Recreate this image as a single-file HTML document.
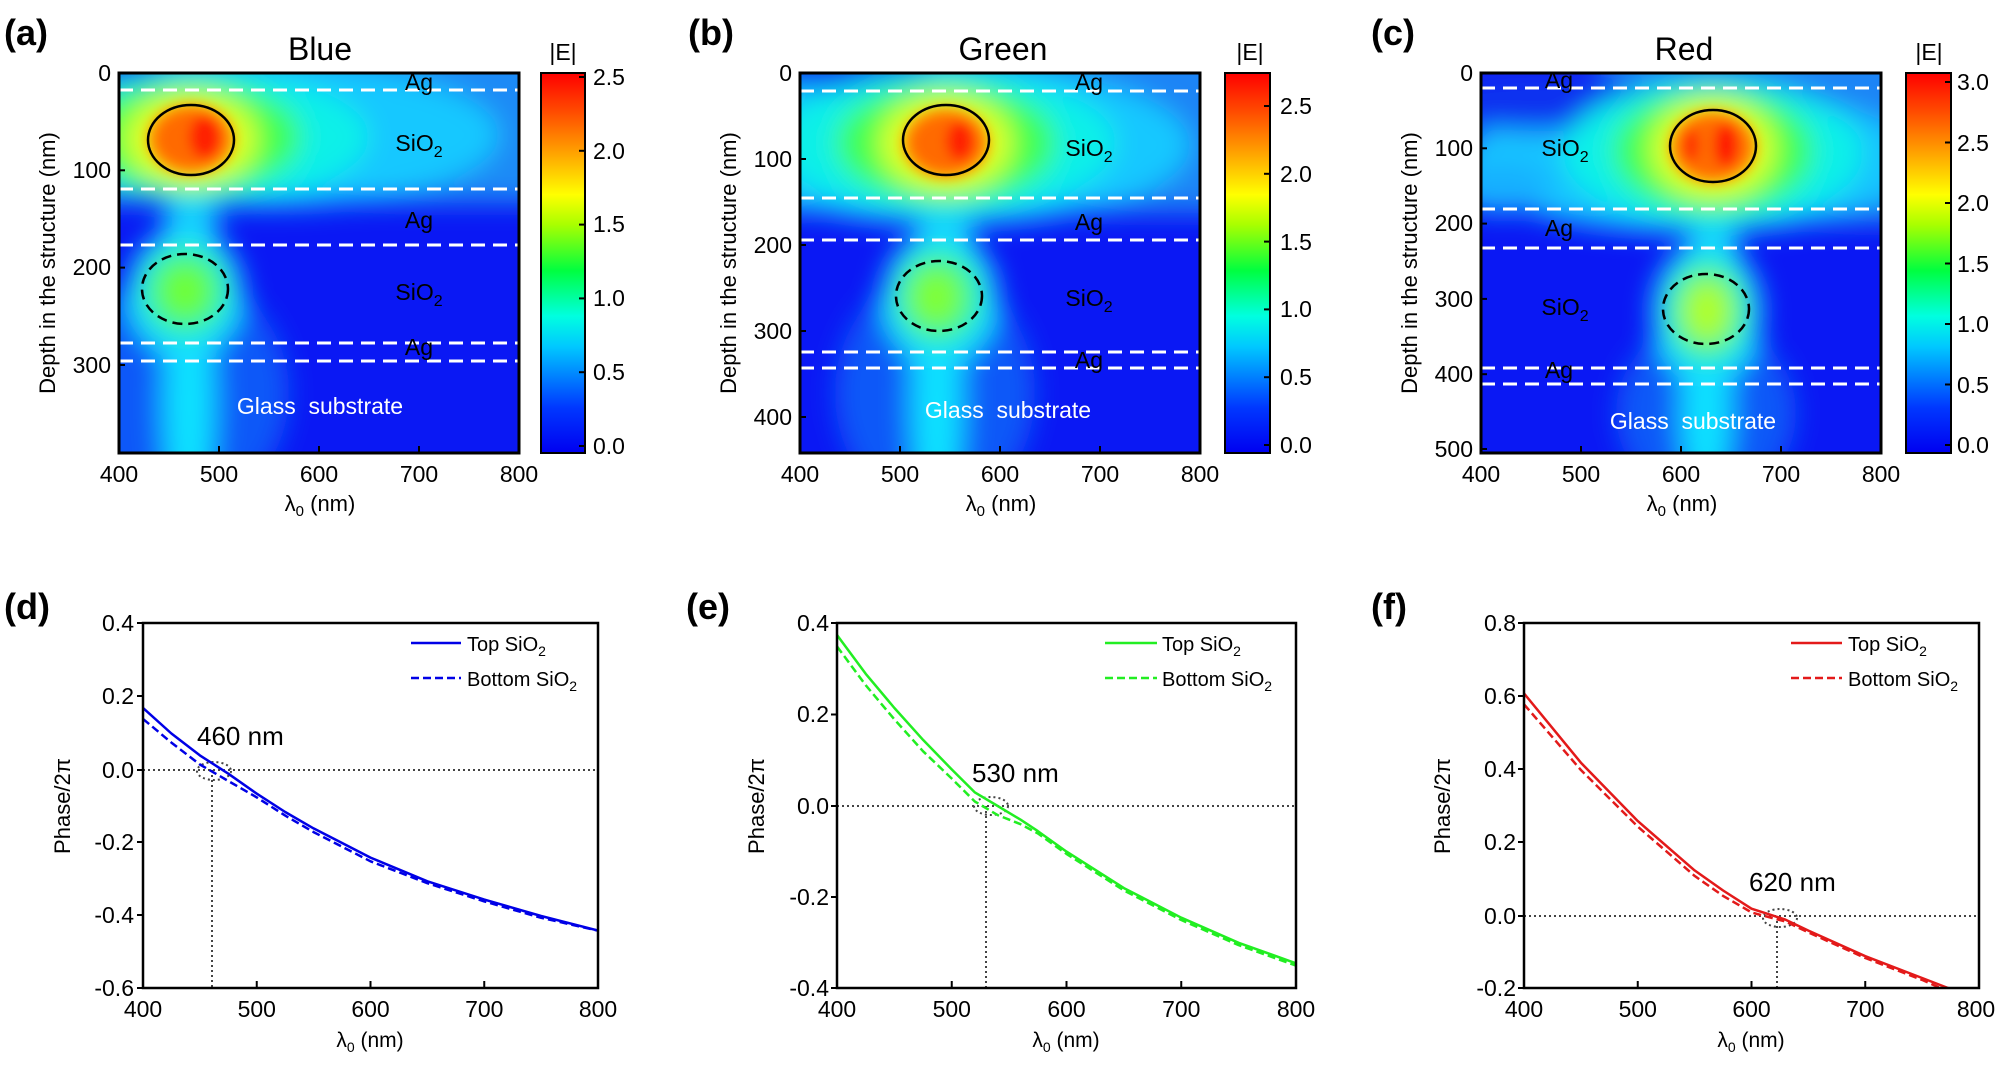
<!DOCTYPE html>
<html><head><meta charset="utf-8"><style>
html,body{margin:0;padding:0;background:#fff;}
svg{display:block;font-family:"Liberation Sans",Arial,sans-serif;}
</style></head><body>
<svg width="2001" height="1066" viewBox="0 0 2001 1066" xmlns="http://www.w3.org/2000/svg">
<defs>
<filter id="bl" x="-50%" y="-50%" width="200%" height="200%"><feGaussianBlur stdDeviation="13"/></filter>
<filter id="bl2" x="-50%" y="-50%" width="200%" height="200%"><feGaussianBlur stdDeviation="6"/></filter>
<clipPath id="pc"><rect x="0" y="0" width="400" height="380"/></clipPath>
<linearGradient id="jet" x1="0" y1="1" x2="0" y2="0">
<stop offset="0" stop-color="#0000f0"/><stop offset="0.12" stop-color="#0038ff"/>
<stop offset="0.28" stop-color="#00c8ff"/><stop offset="0.36" stop-color="#00ffe0"/>
<stop offset="0.48" stop-color="#00ff40"/><stop offset="0.6" stop-color="#a8ff00"/>
<stop offset="0.68" stop-color="#ffff00"/><stop offset="0.8" stop-color="#ff9a00"/>
<stop offset="0.9" stop-color="#ff4a00"/><stop offset="1" stop-color="#ff0000"/>
</linearGradient>
<clipPath id="cd"><rect x="143" y="623" width="455" height="365"/></clipPath>
<clipPath id="ce"><rect x="837" y="623" width="459" height="365"/></clipPath>
<clipPath id="cf"><rect x="1524" y="623" width="455" height="365"/></clipPath>
</defs>

<!-- ===== Panel a ===== -->
<g transform="translate(119,73)">
<g clip-path="url(#pc)">
<rect width="400" height="380" fill="#0a18f4"/>
<g filter="url(#bl)">
<rect x="-30" y="-30" width="460" height="160" fill="#1c8af6"/>
<ellipse cx="60" cy="320" rx="110" ry="120" fill="#1058f8"/>
<ellipse cx="150" cy="62" rx="230" ry="72" fill="#18c8ff"/>
<ellipse cx="0" cy="-5" rx="45" ry="14" fill="#0a40f0"/>
<ellipse cx="70" cy="330" rx="30" ry="120" fill="#18c0ff"/>
<ellipse cx="70" cy="330" rx="14" ry="120" fill="#10e8ff"/>
<ellipse cx="72" cy="150" rx="28" ry="40" fill="#14c8ff"/>
<ellipse cx="66" cy="220" rx="58" ry="65" fill="#14e0ff"/>
<ellipse cx="66" cy="218" rx="42" ry="44" fill="#30f590"/>
<ellipse cx="66" cy="218" rx="26" ry="28" fill="#70ff30"/>
<ellipse cx="90" cy="64" rx="160" ry="64" fill="#10f0e8"/>
<ellipse cx="72" cy="64" rx="110" ry="56" fill="#40ff50"/>
<ellipse cx="72" cy="66" rx="66" ry="46" fill="#e0ff20"/>
</g>
<g filter="url(#bl2)">
<ellipse cx="72" cy="66" rx="44" ry="36" fill="#ffa000"/>
<ellipse cx="72" cy="66" rx="36" ry="29" fill="#ff6a00"/>
<ellipse cx="86" cy="64" rx="16" ry="22" fill="#ff2000"/>
</g>
<g stroke="#fff" stroke-width="3" stroke-dasharray="14 8">
<line x1="0" y1="17" x2="400" y2="17"/><line x1="0" y1="116" x2="400" y2="116"/>
<line x1="0" y1="172" x2="400" y2="172"/><line x1="0" y1="270" x2="400" y2="270"/>
<line x1="0" y1="288" x2="400" y2="288"/>
</g>
<ellipse cx="72" cy="67" rx="43" ry="35" fill="none" stroke="#000" stroke-width="2.5"/>
<ellipse cx="66" cy="216" rx="43" ry="35" fill="none" stroke="#000" stroke-width="2.5" stroke-dasharray="10 6"/>
<g font-size="23" text-anchor="middle" fill="#000">
<text x="300" y="17">Ag</text><text x="300" y="78">SiO<tspan font-size="16" dy="6">2</tspan></text>
<text x="300" y="155">Ag</text><text x="300" y="227">SiO<tspan font-size="16" dy="6">2</tspan></text>
<text x="300" y="282">Ag</text>
</g>
<text x="201" y="341" font-size="23" fill="#fff" text-anchor="middle" xml:space="preserve">Glass  substrate</text>
</g>
<rect width="400" height="380" fill="none" stroke="#000" stroke-width="3"/>
<g stroke="#000" stroke-width="2"><line x1="0" y1="97.3" x2="6" y2="97.3"/><line x1="0" y1="194.6" x2="6" y2="194.6"/><line x1="0" y1="292" x2="6" y2="292"/>
<line x1="100" y1="380" x2="100" y2="373"/><line x1="200" y1="380" x2="200" y2="373"/><line x1="300" y1="380" x2="300" y2="373"/></g>
<g font-size="23" text-anchor="end"><text x="-8" y="8">0</text><text x="-8" y="105">100</text><text x="-8" y="202">200</text><text x="-8" y="300">300</text></g>
<g font-size="23" text-anchor="middle"><text x="0" y="409">400</text><text x="100" y="409">500</text><text x="200" y="409">600</text><text x="300" y="409">700</text><text x="400" y="409">800</text></g>
<text x="201" y="438" font-size="22" text-anchor="middle">λ<tspan font-size="15" dy="5">0</tspan><tspan dy="-5"> (nm)</tspan></text>
<text transform="translate(-64,190) rotate(-90)" font-size="22" text-anchor="middle">Depth in the structure (nm)</text>
</g>
<text x="320" y="60" font-size="32" text-anchor="middle">Blue</text>
<text x="4" y="45" font-size="36" font-weight="bold">(a)</text>
<rect x="541" y="73" width="44" height="380" fill="url(#jet)" stroke="#000" stroke-width="2"/>
<g stroke="#000" stroke-width="2"><line x1="579" y1="77" x2="585" y2="77"/><line x1="579" y1="150.8" x2="585" y2="150.8"/><line x1="579" y1="224.6" x2="585" y2="224.6"/><line x1="579" y1="298.4" x2="585" y2="298.4"/><line x1="579" y1="372.2" x2="585" y2="372.2"/><line x1="579" y1="446" x2="585" y2="446"/></g>
<g font-size="23"><text x="593" y="85">2.5</text><text x="593" y="159">2.0</text><text x="593" y="232">1.5</text><text x="593" y="306">1.0</text><text x="593" y="380">0.5</text><text x="593" y="454">0.0</text></g>
<text x="563" y="60" font-size="23" text-anchor="middle">|E|</text>

<!-- ===== Panel b ===== -->
<g transform="translate(800,73)">
<g clip-path="url(#pc)">
<rect width="400" height="380" fill="#0a18f4"/>
<g filter="url(#bl)">
<rect x="-30" y="-30" width="460" height="170" fill="#1a84f6"/>
<ellipse cx="135" cy="320" rx="100" ry="120" fill="#1058f8"/>
<ellipse cx="150" cy="72" rx="240" ry="80" fill="#18c8ff"/>
<ellipse cx="40" cy="-5" rx="90" ry="20" fill="#0a30f0"/>
<ellipse cx="137" cy="330" rx="30" ry="120" fill="#18c0ff"/>
<ellipse cx="137" cy="330" rx="14" ry="120" fill="#10e8ff"/>
<ellipse cx="145" cy="160" rx="28" ry="40" fill="#14c8ff"/>
<ellipse cx="140" cy="225" rx="58" ry="68" fill="#14e0ff"/>
<ellipse cx="138" cy="224" rx="42" ry="46" fill="#30f590"/>
<ellipse cx="136" cy="224" rx="26" ry="30" fill="#80ff30"/>
<ellipse cx="146" cy="70" rx="170" ry="70" fill="#10f0e8"/>
<ellipse cx="146" cy="70" rx="110" ry="60" fill="#40ff50"/>
<ellipse cx="146" cy="70" rx="66" ry="48" fill="#e0ff20"/>
</g>
<g filter="url(#bl2)">
<ellipse cx="146" cy="70" rx="44" ry="36" fill="#ffa000"/>
<ellipse cx="146" cy="70" rx="36" ry="29" fill="#ff6a00"/>
<ellipse cx="160" cy="68" rx="14" ry="20" fill="#ff2000"/>
</g>
<g stroke="#fff" stroke-width="3" stroke-dasharray="14 8">
<line x1="0" y1="18" x2="400" y2="18"/><line x1="0" y1="125" x2="400" y2="125"/>
<line x1="0" y1="167" x2="400" y2="167"/><line x1="0" y1="279" x2="400" y2="279"/>
<line x1="0" y1="295" x2="400" y2="295"/>
</g>
<ellipse cx="146" cy="67" rx="43" ry="35" fill="none" stroke="#000" stroke-width="2.5"/>
<ellipse cx="139" cy="223" rx="43" ry="35" fill="none" stroke="#000" stroke-width="2.5" stroke-dasharray="10 6"/>
<g font-size="23" text-anchor="middle" fill="#000">
<text x="289" y="17">Ag</text><text x="289" y="83">SiO<tspan font-size="16" dy="6">2</tspan></text>
<text x="289" y="157">Ag</text><text x="289" y="233">SiO<tspan font-size="16" dy="6">2</tspan></text>
<text x="289" y="295">Ag</text>
</g>
<text x="208" y="345" font-size="23" fill="#fff" text-anchor="middle" xml:space="preserve">Glass  substrate</text>
</g>
<rect width="400" height="380" fill="none" stroke="#000" stroke-width="3"/>
<g stroke="#000" stroke-width="2"><line x1="0" y1="86" x2="6" y2="86"/><line x1="0" y1="172" x2="6" y2="172"/><line x1="0" y1="258" x2="6" y2="258"/><line x1="0" y1="344" x2="6" y2="344"/>
<line x1="100" y1="380" x2="100" y2="373"/><line x1="200" y1="380" x2="200" y2="373"/><line x1="300" y1="380" x2="300" y2="373"/></g>
<g font-size="23" text-anchor="end"><text x="-8" y="8">0</text><text x="-8" y="94">100</text><text x="-8" y="180">200</text><text x="-8" y="266">300</text><text x="-8" y="352">400</text></g>
<g font-size="23" text-anchor="middle"><text x="0" y="409">400</text><text x="100" y="409">500</text><text x="200" y="409">600</text><text x="300" y="409">700</text><text x="400" y="409">800</text></g>
<text x="201" y="438" font-size="22" text-anchor="middle">λ<tspan font-size="15" dy="5">0</tspan><tspan dy="-5"> (nm)</tspan></text>
<text transform="translate(-64,190) rotate(-90)" font-size="22" text-anchor="middle">Depth in the structure (nm)</text>
</g>
<text x="1003" y="60" font-size="32" text-anchor="middle">Green</text>
<text x="688" y="45" font-size="36" font-weight="bold">(b)</text>
<rect x="1225" y="73" width="45" height="380" fill="url(#jet)" stroke="#000" stroke-width="2"/>
<g stroke="#000" stroke-width="2"><line x1="1264" y1="106" x2="1270" y2="106"/><line x1="1264" y1="173.8" x2="1270" y2="173.8"/><line x1="1264" y1="241.6" x2="1270" y2="241.6"/><line x1="1264" y1="309.4" x2="1270" y2="309.4"/><line x1="1264" y1="377.2" x2="1270" y2="377.2"/><line x1="1264" y1="445" x2="1270" y2="445"/></g>
<g font-size="23"><text x="1280" y="114">2.5</text><text x="1280" y="182">2.0</text><text x="1280" y="250">1.5</text><text x="1280" y="317">1.0</text><text x="1280" y="385">0.5</text><text x="1280" y="453">0.0</text></g>
<text x="1250" y="60" font-size="23" text-anchor="middle">|E|</text>

<!-- ===== Panel c ===== -->
<g transform="translate(1481,73)">
<g clip-path="url(#pc)">
<rect width="400" height="380" fill="#0a18f4"/>
<g filter="url(#bl)">
<rect x="120" y="-30" width="310" height="180" fill="#1a84f6"/>
<ellipse cx="225" cy="340" rx="90" ry="90" fill="#1058f8"/>
<ellipse cx="210" cy="88" rx="230" ry="72" fill="#18c4ff"/>
<ellipse cx="20" cy="115" rx="50" ry="25" fill="#18b0ff"/>
<ellipse cx="60" cy="28" rx="120" ry="30" fill="#0a30f0"/>
<ellipse cx="225" cy="340" rx="30" ry="80" fill="#18c0ff"/>
<ellipse cx="225" cy="340" rx="14" ry="80" fill="#10e8ff"/>
<ellipse cx="232" cy="175" rx="26" ry="30" fill="#14c8ff"/>
<ellipse cx="226" cy="240" rx="55" ry="72" fill="#14e0ff"/>
<ellipse cx="226" cy="238" rx="40" ry="50" fill="#30f590"/>
<ellipse cx="226" cy="238" rx="24" ry="32" fill="#b0ff20"/>
<ellipse cx="232" cy="80" rx="150" ry="72" fill="#10f0e8"/>
<ellipse cx="232" cy="78" rx="100" ry="62" fill="#40ff50"/>
<ellipse cx="232" cy="76" rx="62" ry="50" fill="#e0ff20"/>
</g>
<g filter="url(#bl2)">
<ellipse cx="232" cy="74" rx="44" ry="37" fill="#ffa000"/>
<ellipse cx="232" cy="74" rx="36" ry="30" fill="#ff6a00"/>
<ellipse cx="245" cy="72" rx="12" ry="22" fill="#ff1a00"/>
<ellipse cx="210" cy="72" rx="8" ry="16" fill="#ff3000"/>
</g>
<g stroke="#fff" stroke-width="3" stroke-dasharray="14 8">
<line x1="0" y1="15" x2="400" y2="15"/><line x1="0" y1="136" x2="400" y2="136"/>
<line x1="0" y1="175" x2="400" y2="175"/><line x1="0" y1="295" x2="400" y2="295"/>
<line x1="0" y1="311" x2="400" y2="311"/>
</g>
<ellipse cx="232" cy="73" rx="43" ry="36" fill="none" stroke="#000" stroke-width="2.5"/>
<ellipse cx="225" cy="236" rx="43" ry="35" fill="none" stroke="#000" stroke-width="2.5" stroke-dasharray="10 6"/>
<g font-size="23" text-anchor="middle" fill="#000">
<text x="78" y="15">Ag</text><text x="84" y="83">SiO<tspan font-size="16" dy="6">2</tspan></text>
<text x="78" y="163">Ag</text><text x="84" y="242">SiO<tspan font-size="16" dy="6">2</tspan></text>
<text x="78" y="305">Ag</text>
</g>
<text x="212" y="356" font-size="23" fill="#fff" text-anchor="middle" xml:space="preserve">Glass  substrate</text>
</g>
<rect width="400" height="380" fill="none" stroke="#000" stroke-width="3"/>
<g stroke="#000" stroke-width="2"><line x1="0" y1="75.3" x2="6" y2="75.3"/><line x1="0" y1="150.6" x2="6" y2="150.6"/><line x1="0" y1="225.9" x2="6" y2="225.9"/><line x1="0" y1="301.2" x2="6" y2="301.2"/><line x1="0" y1="376" x2="6" y2="376"/>
<line x1="100" y1="380" x2="100" y2="373"/><line x1="200" y1="380" x2="200" y2="373"/><line x1="300" y1="380" x2="300" y2="373"/></g>
<g font-size="23" text-anchor="end"><text x="-8" y="8">0</text><text x="-8" y="83">100</text><text x="-8" y="158">200</text><text x="-8" y="234">300</text><text x="-8" y="309">400</text><text x="-8" y="384">500</text></g>
<g font-size="23" text-anchor="middle"><text x="0" y="409">400</text><text x="100" y="409">500</text><text x="200" y="409">600</text><text x="300" y="409">700</text><text x="400" y="409">800</text></g>
<text x="201" y="438" font-size="22" text-anchor="middle">λ<tspan font-size="15" dy="5">0</tspan><tspan dy="-5"> (nm)</tspan></text>
<text transform="translate(-64,190) rotate(-90)" font-size="22" text-anchor="middle">Depth in the structure (nm)</text>
</g>
<text x="1684" y="60" font-size="32" text-anchor="middle">Red</text>
<text x="1371" y="45" font-size="36" font-weight="bold">(c)</text>
<rect x="1906" y="73" width="45" height="380" fill="url(#jet)" stroke="#000" stroke-width="2"/>
<g stroke="#000" stroke-width="2"><line x1="1945" y1="82" x2="1951" y2="82"/><line x1="1945" y1="142.5" x2="1951" y2="142.5"/><line x1="1945" y1="203" x2="1951" y2="203"/><line x1="1945" y1="263.5" x2="1951" y2="263.5"/><line x1="1945" y1="324" x2="1951" y2="324"/><line x1="1945" y1="384.5" x2="1951" y2="384.5"/><line x1="1945" y1="445" x2="1951" y2="445"/></g>
<g font-size="23"><text x="1957" y="90">3.0</text><text x="1957" y="151">2.5</text><text x="1957" y="211">2.0</text><text x="1957" y="272">1.5</text><text x="1957" y="332">1.0</text><text x="1957" y="393">0.5</text><text x="1957" y="453">0.0</text></g>
<text x="1929" y="60" font-size="23" text-anchor="middle">|E|</text>

<!-- ===== Panel d ===== -->
<text x="4" y="619" font-size="36" font-weight="bold">(d)</text>
<g stroke="#444" stroke-width="2" stroke-dasharray="2 3" fill="none">
<line x1="143" y1="770" x2="598" y2="770"/><line x1="212" y1="770" x2="212" y2="988"/>
<ellipse cx="214" cy="771" rx="17" ry="9"/></g>
<g clip-path="url(#cd)" fill="none" stroke="#0000e6" stroke-width="2.5" stroke-linejoin="round">
<polyline points="143,707.9 171.4,733.5 199.9,755.4 228.3,773.7 256.8,793.7 285.2,812 313.6,828.4 342.1,843 370.5,857.6 427.4,881.3 484.3,899.6 541.1,916 598,930.6"/>
<polyline stroke-dasharray="8 4" points="143,718.9 171.4,742.6 199.9,764.5 228.3,781 256.8,797.4 285.2,815.6 313.6,832.1 342.1,846.7 370.5,861.3 427.4,883.2 484.3,901.4 541.1,917.8 598,930.6"/>
</g>
<rect x="143" y="623" width="455" height="365" fill="none" stroke="#000" stroke-width="2.5"/>
<g stroke="#000" stroke-width="2"><line x1="137" y1="623" x2="143" y2="623"/><line x1="137" y1="696" x2="143" y2="696"/><line x1="137" y1="770" x2="143" y2="770"/><line x1="137" y1="842" x2="143" y2="842"/><line x1="137" y1="915" x2="143" y2="915"/><line x1="137" y1="988" x2="143" y2="988"/>
<line x1="256.75" y1="988" x2="256.75" y2="981"/><line x1="370.5" y1="988" x2="370.5" y2="981"/><line x1="484.25" y1="988" x2="484.25" y2="981"/></g>
<g font-size="23" text-anchor="end"><text x="134" y="631">0.4</text><text x="134" y="704">0.2</text><text x="134" y="778">0.0</text><text x="134" y="850">-0.2</text><text x="134" y="923">-0.4</text><text x="134" y="996">-0.6</text></g>
<g font-size="23" text-anchor="middle"><text x="143" y="1017">400</text><text x="256.75" y="1017">500</text><text x="370.5" y="1017">600</text><text x="484.25" y="1017">700</text><text x="598" y="1017">800</text></g>
<text x="370" y="1047" font-size="21" text-anchor="middle">λ<tspan font-size="14" dy="5">0</tspan><tspan dy="-5"> (nm)</tspan></text>
<text transform="translate(70,806) rotate(-90)" font-size="22" text-anchor="middle">Phase/2π</text>
<text x="197" y="745" font-size="26">460 nm</text>
<line x1="411" y1="643" x2="461" y2="643" stroke="#0000e6" stroke-width="2.5"/>
<line x1="411" y1="678" x2="461" y2="678" stroke="#0000e6" stroke-width="2.5" stroke-dasharray="8 4"/>
<text x="467" y="651" font-size="20">Top SiO<tspan font-size="14" dy="5">2</tspan></text>
<text x="467" y="686" font-size="20">Bottom SiO<tspan font-size="14" dy="5">2</tspan></text>

<!-- ===== Panel e ===== -->
<text x="686" y="619" font-size="36" font-weight="bold">(e)</text>
<g stroke="#444" stroke-width="2" stroke-dasharray="2 3" fill="none">
<line x1="837" y1="806" x2="1296" y2="806"/><line x1="986" y1="806" x2="986" y2="988"/>
<ellipse cx="991" cy="806" rx="17" ry="9"/></g>
<g clip-path="url(#ce)" fill="none" stroke="#22ee22" stroke-width="2.5" stroke-linejoin="round">
<polyline points="837,635 865.7,673.8 894.4,708 923.1,739.9 951.8,769.5 974.7,792.3 997.7,806 1020.6,819.7 1037.8,831.1 1066.5,851.6 1123.9,888.1 1181.3,917.7 1238.6,942.8 1296,963.3"/>
<polyline stroke-dasharray="8 4" points="837,646.4 865.7,685.2 894.4,719.4 923.1,751.3 951.8,778.6 974.7,801.4 997.7,815.1 1020.6,824.2 1037.8,833.4 1066.5,853.9 1123.9,890.4 1181.3,920 1238.6,945.1 1296,965.6"/>
</g>
<rect x="837" y="623" width="459" height="365" fill="none" stroke="#000" stroke-width="2.5"/>
<g stroke="#000" stroke-width="2"><line x1="831" y1="623" x2="837" y2="623"/><line x1="831" y1="714.5" x2="837" y2="714.5"/><line x1="831" y1="806" x2="837" y2="806"/><line x1="831" y1="897" x2="837" y2="897"/><line x1="831" y1="988" x2="837" y2="988"/>
<line x1="951.75" y1="988" x2="951.75" y2="981"/><line x1="1066.5" y1="988" x2="1066.5" y2="981"/><line x1="1181.25" y1="988" x2="1181.25" y2="981"/></g>
<g font-size="23" text-anchor="end"><text x="829" y="631">0.4</text><text x="829" y="722">0.2</text><text x="829" y="814">0.0</text><text x="829" y="905">-0.2</text><text x="829" y="996">-0.4</text></g>
<g font-size="23" text-anchor="middle"><text x="837" y="1017">400</text><text x="951.75" y="1017">500</text><text x="1066.5" y="1017">600</text><text x="1181.25" y="1017">700</text><text x="1296" y="1017">800</text></g>
<text x="1066" y="1047" font-size="21" text-anchor="middle">λ<tspan font-size="14" dy="5">0</tspan><tspan dy="-5"> (nm)</tspan></text>
<text transform="translate(764,806) rotate(-90)" font-size="22" text-anchor="middle">Phase/2π</text>
<text x="972" y="782" font-size="26">530 nm</text>
<line x1="1105" y1="643" x2="1157" y2="643" stroke="#22ee22" stroke-width="2.5"/>
<line x1="1105" y1="678" x2="1157" y2="678" stroke="#22ee22" stroke-width="2.5" stroke-dasharray="8 4"/>
<text x="1162" y="651" font-size="20">Top SiO<tspan font-size="14" dy="5">2</tspan></text>
<text x="1162" y="686" font-size="20">Bottom SiO<tspan font-size="14" dy="5">2</tspan></text>

<!-- ===== Panel f ===== -->
<text x="1371" y="619" font-size="36" font-weight="bold">(f)</text>
<g stroke="#444" stroke-width="2" stroke-dasharray="2 3" fill="none">
<line x1="1524" y1="916" x2="1979" y2="916"/><line x1="1777" y1="916" x2="1777" y2="988"/>
<ellipse cx="1780" cy="918" rx="17" ry="9"/></g>
<g clip-path="url(#cf)" fill="none" stroke="#e31a1a" stroke-width="2.5" stroke-linejoin="round">
<polyline points="1524,693.4 1580.9,762.7 1637.8,821.1 1694.6,870.4 1723.1,890.5 1751.5,908.7 1768.6,914.2 1785.6,919.7 1808.4,930.6 1865.3,956.2 1922.1,978 1950.6,989"/>
<polyline stroke-dasharray="8 4" points="1524,704.3 1580.9,770 1637.8,826.6 1694.6,875.9 1723.1,895.9 1751.5,912.4 1768.6,917.1 1785.6,921.5 1808.4,932.4 1865.3,958 1922.1,979.9 1942.6,989"/>
</g>
<rect x="1524" y="623" width="455" height="365" fill="none" stroke="#000" stroke-width="2.5"/>
<g stroke="#000" stroke-width="2"><line x1="1518" y1="623" x2="1524" y2="623"/><line x1="1518" y1="696" x2="1524" y2="696"/><line x1="1518" y1="769" x2="1524" y2="769"/><line x1="1518" y1="842" x2="1524" y2="842"/><line x1="1518" y1="916" x2="1524" y2="916"/><line x1="1518" y1="988" x2="1524" y2="988"/>
<line x1="1637.75" y1="988" x2="1637.75" y2="981"/><line x1="1751.5" y1="988" x2="1751.5" y2="981"/><line x1="1865.25" y1="988" x2="1865.25" y2="981"/></g>
<g font-size="23" text-anchor="end"><text x="1516" y="631">0.8</text><text x="1516" y="704">0.6</text><text x="1516" y="777">0.4</text><text x="1516" y="850">0.2</text><text x="1516" y="924">0.0</text><text x="1516" y="996">-0.2</text></g>
<g font-size="23" text-anchor="middle"><text x="1524" y="1017">400</text><text x="1637.75" y="1017">500</text><text x="1751.5" y="1017">600</text><text x="1865.25" y="1017">700</text><text x="1976" y="1017">800</text></g>
<text x="1751" y="1047" font-size="21" text-anchor="middle">λ<tspan font-size="14" dy="5">0</tspan><tspan dy="-5"> (nm)</tspan></text>
<text transform="translate(1450,806) rotate(-90)" font-size="22" text-anchor="middle">Phase/2π</text>
<text x="1749" y="891" font-size="26">620 nm</text>
<line x1="1791" y1="643" x2="1842" y2="643" stroke="#e31a1a" stroke-width="2.5"/>
<line x1="1791" y1="678" x2="1842" y2="678" stroke="#e31a1a" stroke-width="2.5" stroke-dasharray="8 4"/>
<text x="1848" y="651" font-size="20">Top SiO<tspan font-size="14" dy="5">2</tspan></text>
<text x="1848" y="686" font-size="20">Bottom SiO<tspan font-size="14" dy="5">2</tspan></text>
</svg>
</body></html>
